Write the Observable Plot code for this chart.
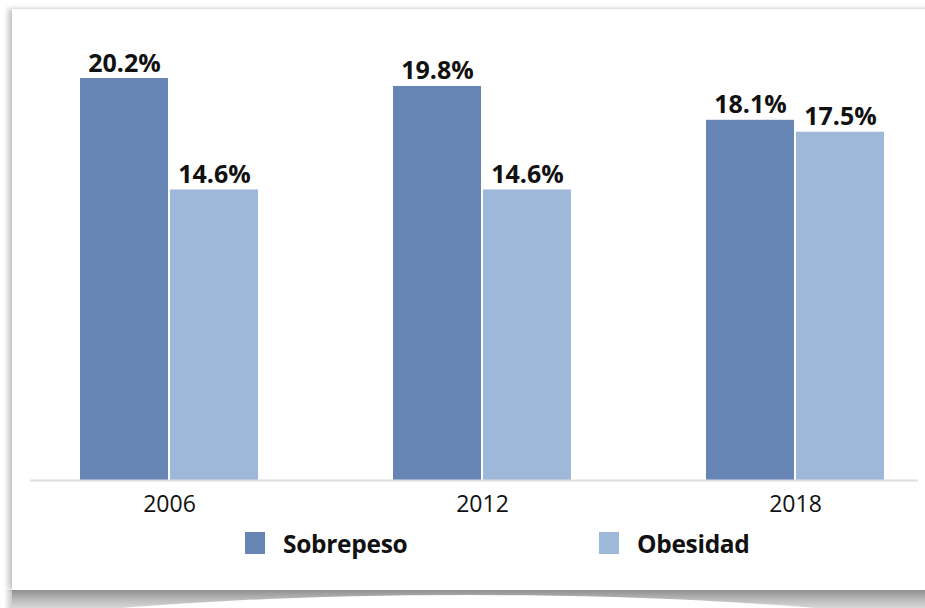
<!DOCTYPE html>
<html><head><meta charset="utf-8">
<script src="https://cdn.jsdelivr.net/npm/d3@7"></script>
<script src="https://cdn.jsdelivr.net/npm/@observablehq/plot@0.6"></script>
<style>
body{margin:0;background:#fff;width:925px;height:608px;overflow:hidden;position:relative;font-family:"Open Sans",sans-serif}
#card{position:absolute;left:12px;top:9px;width:940px;height:581px;background:#fff;box-shadow:-4px 0 5px rgba(0,0,0,0.22),0 -1px 2px rgba(0,0,0,0.04)}
#lshadow{position:absolute;left:4px;top:590px;width:8px;height:18px;background:linear-gradient(90deg,rgba(0,0,0,0),rgba(0,0,0,0.2))}
#shadow{position:absolute;left:12px;top:590px;width:913px;height:18px;background:linear-gradient(#8f8f8f,#b8b8b8 50%,#d8d8d8);overflow:hidden}
#shadow div{position:absolute;left:-140px;width:1193px;top:5px;height:140px;border-radius:50%;background:#fff}
#chart{position:absolute;left:0;top:0}
#legend{position:absolute;top:531px;left:0;width:925px;height:24px;font-weight:700;font-size:24.5px;letter-spacing:-0.3px;color:#111}
.item{position:absolute;top:0;height:24px;display:flex;align-items:center}
.sw{width:20px;height:22px;margin-right:18px}
</style></head>
<body>
<div id="card"></div>
<div id="lshadow"></div>
<div id="shadow"><div></div></div>
<div id="chart"></div>
<div id="legend"></div>
<script>
const years = ["2006", "2012", "2018"];
const series = ["Sobrepeso", "Obesidad"];
const sobrepeso = [20.2, 19.8, 18.1];
const obesidad = [14.6, 14.6, 17.5];
const colors = ["#6785b4", "#9db8d8"];

const rowsS = years.map((year, i) => ({year, series: series[0], value: sobrepeso[i]}));
const rowsO = years.map((year, i) => ({year, series: series[1], value: obesidad[i]}));
const fmt = d => d.value.toFixed(1) + "%";

const chart = Plot.plot({
  width: 925,
  height: 525,
  marginTop: 78,
  marginBottom: 45,
  marginLeft: 30,
  marginRight: 7,
  style: {fontFamily: "Open Sans, sans-serif", fontSize: "23px", background: "transparent", color: "#111"},
  x: {domain: years, paddingInner: 0.431, paddingOuter: 0.134, align: 0.595, label: null},
  y: {domain: [0, 20.2], axis: null},
  color: {domain: series, range: colors},
  marks: [
    Plot.barY(rowsS, {x: "year", y: "value", fill: "series", insetRight: 90}),
    Plot.barY(rowsO, {x: "year", y: "value", fill: "series", insetLeft: 90}),
    Plot.ruleY([0], {stroke: "#dedede", strokeWidth: 2}),
    Plot.text(rowsS, {x: "year", y: "value", text: fmt, dx: -45, dy: -7, lineAnchor: "bottom", fontSize: 25, fontWeight: 700, fill: "#111", letterSpacing: "-1.3px"}),
    Plot.text(rowsO, {x: "year", y: "value", text: fmt, dx: 45, dy: -7, lineAnchor: "bottom", fontSize: 25, fontWeight: 700, fill: "#111", letterSpacing: "-1.3px"}),
    Plot.axisX({tickSize: 0, tickPadding: 15, fontSize: 23, label: null})
  ]
});
document.getElementById("chart").appendChild(chart);

const legend = document.getElementById("legend");
const legendX = [245, 599];
series.forEach((s, i) => {
  const item = document.createElement("div");
  item.className = "item";
  item.style.left = legendX[i] + "px";
  const sw = document.createElement("span");
  sw.className = "sw";
  sw.style.background = colors[i];
  const t = document.createElement("span");
  t.textContent = s;
  item.appendChild(sw);
  item.appendChild(t);
  legend.appendChild(item);
});
</script>
</body></html>
